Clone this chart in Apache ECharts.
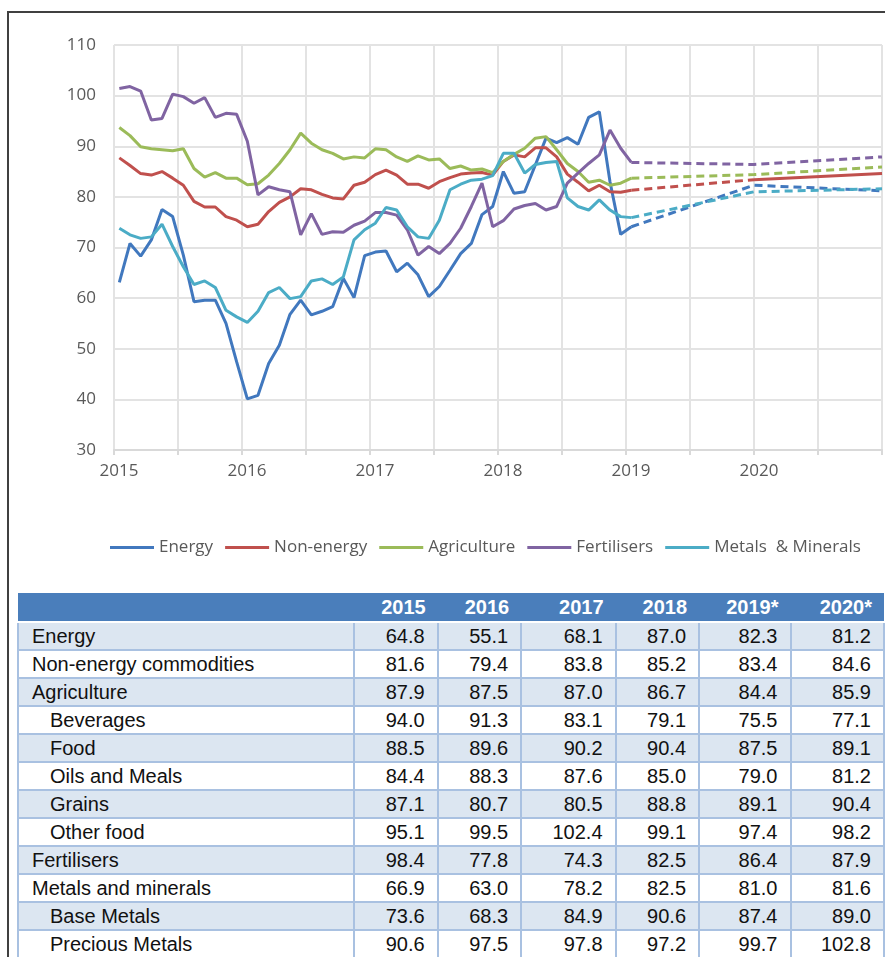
<!DOCTYPE html>
<html>
<head>
<meta charset="utf-8">
<script src="https://cdn.jsdelivr.net/npm/echarts@6/dist/echarts.min.js"></script>
<style>
  html, body { margin: 0; padding: 0; width: 885px; height: 957px; overflow: hidden; background: #fff; }
  #chart { position: absolute; left: 0; top: 0; width: 885px; height: 580px; }
  #frame { position: absolute; left: 7px; top: 11px; width: 900px; height: 960px;
           border-top: 2px solid #404040; border-left: 2px solid #404040; pointer-events: none; }
  #tbl { position: absolute; left: 17px; top: 593px; border-collapse: collapse; table-layout: fixed;
         font-family: 'Liberation Sans', Arial, sans-serif; font-size: 20px; color: #111; }
  #tbl th { background: #4a7ebb; color: #fff; font-weight: bold; text-align: right;
            padding: 0 12px 0 0; height: 28px; border: none; border-bottom: 2px solid #fff; }
  #tbl td { height: 26px; padding: 0 12px 0 0; text-align: right; border: 2px solid #a9c1e1; line-height: 24px; }
  #tbl td.name { text-align: left; padding-left: 13px; }
  #tbl td.sub { padding-left: 31px; }
  #tbl tr.band td { background: #dce6f1; }
</style>
</head>
<body>
<div id="chart"></div>
<table id="tbl"></table>
<div id="frame"></div>
<script>
// x axis year labels (one per 12 months, starting Jan 2015)
var years = ['2015', '2016', '2017', '2018', '2019', '2020'];

// monthly index values, Jan 2015 .. Jan 2019
var energy = [63.1, 70.8, 68.3, 71.5, 77.5, 76.1, 68.5, 59.3, 59.6, 59.6, 55.0, 47.4,
              40.1, 40.8, 47.1, 50.7, 56.8, 59.6, 56.7, 57.4, 58.3, 63.9, 60.1, 68.4,
              69.1, 69.3, 65.2, 66.9, 64.6, 60.3, 62.3, 65.5, 68.8, 70.8, 76.5, 78.1,
              85.0, 80.7, 81.0, 86.3, 91.6, 90.7, 91.7, 90.4, 95.7, 96.8, 83.0, 72.6,
              74.1];
var nonEnergy = [87.7, 86.2, 84.6, 84.3, 85.0, 83.7, 82.3, 79.1, 78.0, 78.0, 76.1, 75.4,
                 74.1, 74.6, 77.1, 78.9, 80.0, 81.6, 81.4, 80.5, 79.8, 79.6, 82.3, 82.9,
                 84.4, 85.3, 84.3, 82.5, 82.5, 81.7, 83.0, 83.8, 84.5, 84.7, 84.8, 84.3,
                 87.0, 88.3, 87.9, 89.7, 89.7, 87.9, 84.5, 82.9, 81.2, 82.3, 81.0, 80.9,
                 81.3];
var agriculture = [93.7, 92.1, 89.9, 89.5, 89.3, 89.1, 89.5, 85.6, 83.9, 84.8, 83.7, 83.7,
                   82.4, 82.6, 84.3, 86.6, 89.3, 92.6, 90.6, 89.3, 88.6, 87.5, 87.9, 87.7,
                   89.5, 89.3, 87.9, 87.0, 88.1, 87.3, 87.5, 85.6, 86.1, 85.3, 85.5, 84.8,
                   87.0, 88.4, 89.6, 91.6, 91.9, 89.3, 86.6, 85.0, 82.9, 83.3, 82.3, 82.7,
                   83.7];
var fertilisers = [101.4, 101.8, 100.9, 95.2, 95.5, 100.3, 99.8, 98.5, 99.6, 95.7, 96.5, 96.3,
                   91.0, 80.4, 82.0, 81.4, 81.0, 72.5, 76.7, 72.6, 73.1, 73.0, 74.4, 75.2,
                   76.9, 76.9, 76.4, 73.5, 68.5, 70.2, 68.8, 70.8, 73.8, 78.1, 82.7, 74.1,
                   75.3, 77.6, 78.3, 78.7, 77.4, 78.1, 82.7, 84.7, 86.6, 88.3, 93.2, 89.6,
                   86.8];
var metals = [73.8, 72.5, 71.8, 72.1, 74.6, 70.2, 66.2, 62.7, 63.4, 62.1, 57.6, 56.3,
              55.2, 57.4, 61.1, 62.1, 59.9, 60.3, 63.4, 63.8, 62.7, 64.2, 71.5, 73.5,
              74.8, 77.9, 77.4, 74.1, 72.1, 71.8, 75.4, 81.4, 82.5, 83.3, 83.5, 84.2,
              88.6, 88.6, 84.7, 86.4, 86.8, 87.0, 79.8, 78.1, 77.4, 79.4, 77.4, 76.1,
              75.9];

// annual table
var tableYears = ['2015', '2016', '2017', '2018', '2019*', '2020*'];
var rowNames = ['Energy', 'Non-energy commodities', 'Agriculture', 'Beverages', 'Food', 'Oils and Meals',
                'Grains', 'Other food', 'Fertilisers', 'Metals and minerals', 'Base Metals', 'Precious Metals'];
var subRow = [false, false, false, true, true, true, true, true, false, false, true, true];
var annual = [
  [64.8, 55.1, 68.1, 87.0, 82.3, 81.2],
  [81.6, 79.4, 83.8, 85.2, 83.4, 84.6],
  [87.9, 87.5, 87.0, 86.7, 84.4, 85.9],
  [94.0, 91.3, 83.1, 79.1, 75.5, 77.1],
  [88.5, 89.6, 90.2, 90.4, 87.5, 89.1],
  [84.4, 88.3, 87.6, 85.0, 79.0, 81.2],
  [87.1, 80.7, 80.5, 88.8, 89.1, 90.4],
  [95.1, 99.5, 102.4, 99.1, 97.4, 98.2],
  [98.4, 77.8, 74.3, 82.5, 86.4, 87.9],
  [66.9, 63.0, 78.2, 82.5, 81.0, 81.6],
  [73.6, 68.3, 84.9, 90.6, 87.4, 89.0],
  [90.6, 97.5, 97.8, 97.2, 99.7, 102.8]
];

// forecast points: last month, then 2019* and 2020* averages
var forecastMonths = [48.5, 60, 72];

var lines = [
  { name: 'Energy', color: '#4178be', data: energy, row: 0 },
  { name: 'Non-energy', color: '#c0504d', data: nonEnergy, row: 1 },
  { name: 'Agriculture', color: '#9bbb59', data: agriculture, row: 2 },
  { name: 'Fertilisers', color: '#8064a2', data: fertilisers, row: 8 },
  { name: 'Metals  & Minerals', color: '#4bacc6', data: metals, row: 9 }
];

var series = [];
lines.forEach(function (l) {
  series.push({
    name: l.name, type: 'line', showSymbol: false, animation: false,
    data: l.data.map(function (v, i) { return [i + 0.5, v]; }),
    itemStyle: { color: l.color },
    lineStyle: { color: l.color, width: 3 }
  });
});
lines.forEach(function (l) {
  var last = l.data[l.data.length - 1];
  var fc = [[forecastMonths[0], last], [forecastMonths[1], annual[l.row][4]], [forecastMonths[2], annual[l.row][5]]];
  if (l.row === 1) {
    // non-energy: dashed to 2019*, solid after
    series.push({ name: l.name, type: 'line', showSymbol: false, animation: false, data: fc.slice(0, 2),
      itemStyle: { color: l.color }, lineStyle: { color: l.color, width: 3, type: [8, 5] } });
    series.push({ name: l.name, type: 'line', showSymbol: false, animation: false, data: fc.slice(1),
      itemStyle: { color: l.color }, lineStyle: { color: l.color, width: 3 } });
  } else {
    series.push({ name: l.name, type: 'line', showSymbol: false, animation: false, data: fc,
      itemStyle: { color: l.color }, lineStyle: { color: l.color, width: 3, type: [8, 5] } });
  }
});

var chart = echarts.init(document.getElementById('chart'));
chart.setOption({
  animation: false,
  grid: { left: 114, right: 2, top: 45, bottom: 130 },
  legend: {
    left: 105, top: 534,
    data: lines.map(function (l) { return l.name; }),
    icon: 'rect', itemWidth: 44, itemHeight: 3, itemGap: 12,
    textStyle: { color: '#595959', fontSize: 17, fontFamily: 'Open Sans' }
  },
  xAxis: {
    type: 'value', min: 0, max: 72, interval: 6,
    axisLine: { lineStyle: { color: '#d9d9d9', width: 2 } },
    axisTick: { show: true, length: 5, lineStyle: { color: '#d9d9d9', width: 2 } },
    splitLine: { show: true, lineStyle: { color: '#e3e3e3', width: 2 } },
    axisLabel: {
      color: '#595959', fontSize: 17, fontFamily: 'Open Sans', margin: 13, padding: [0, 0, 0, 10],
      formatter: function (v) { return (v % 12 === 0 && v < 72) ? years[v / 12] : ''; }
    }
  },
  yAxis: {
    type: 'value', min: 30, max: 110, interval: 10,
    axisLine: { show: false }, axisTick: { show: false },
    splitLine: { lineStyle: { color: '#e3e3e3', width: 2 } },
    axisLabel: { color: '#595959', fontSize: 17, fontFamily: 'Open Sans', margin: 18 }
  },
  series: series
});

// table
var colWidths = [340, 84, 84, 95, 84, 92, 94];
var html = '<colgroup>' + colWidths.map(function (w) { return '<col style="width:' + w + 'px">'; }).join('') + '</colgroup>';
html += '<tr><th></th>' + tableYears.map(function (y) { return '<th>' + y + '</th>'; }).join('') + '</tr>';
rowNames.forEach(function (n, r) {
  html += '<tr class="' + (r % 2 === 0 ? 'band' : '') + '"><td class="name' + (subRow[r] ? ' sub' : '') + '">' + n + '</td>' +
    annual[r].map(function (v) { return '<td>' + v.toFixed(1) + '</td>'; }).join('') + '</tr>';
});
document.getElementById('tbl').innerHTML = html;
</script>
</body>
</html>
